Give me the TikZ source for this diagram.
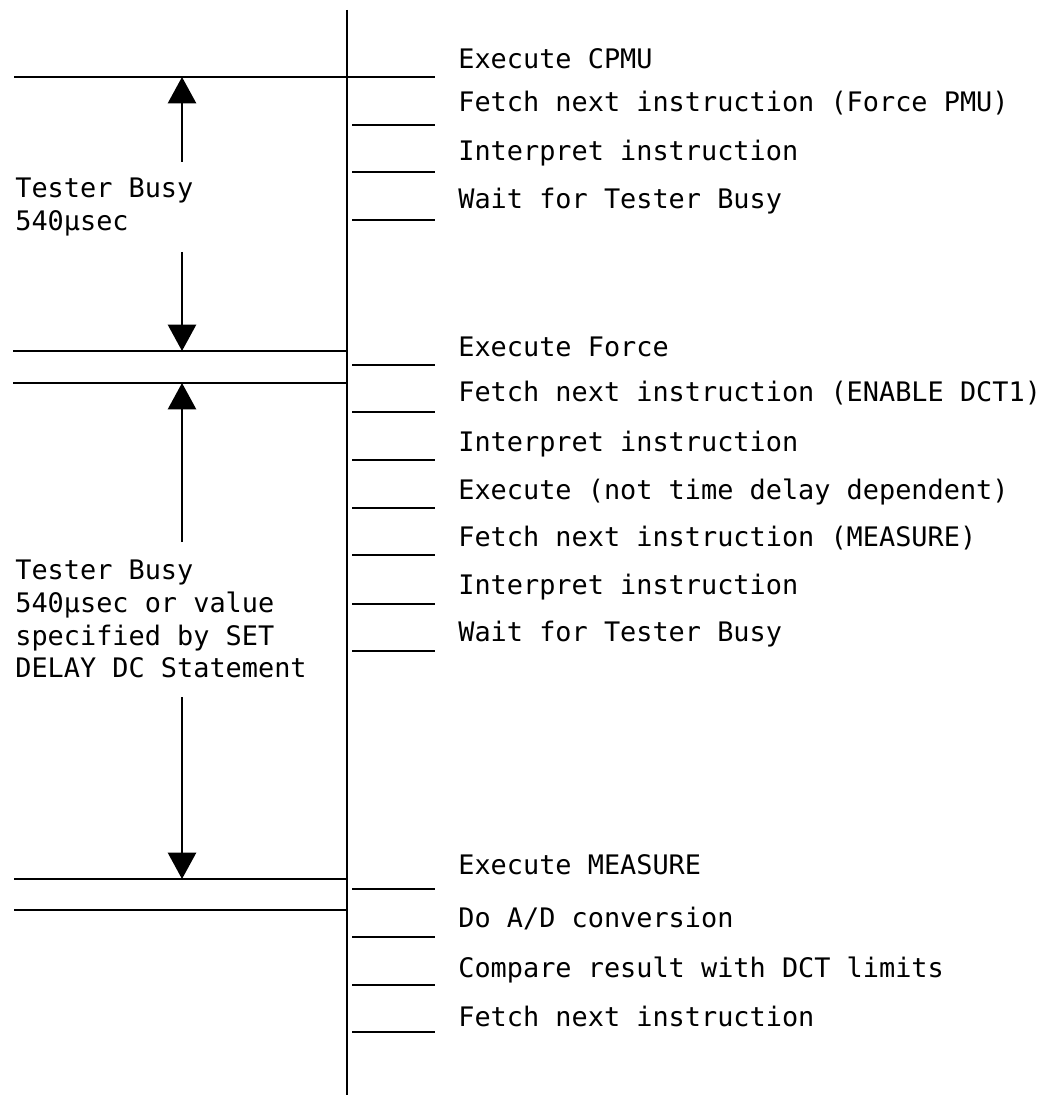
\documentclass[tikz,border=0pt]{standalone}
\usepackage{fontspec}
\setmonofont{DejaVu Sans Mono}
\usetikzlibrary{arrows.meta}

\begin{document}
\begin{tikzpicture}[x=0.02cm,y=-0.02cm,
  rule/.style={line width=1.3pt},
  busyarrow/.style={line width=1.3pt,-{Triangle[width=16pt,length=15pt]}},
  stepnote/.style={anchor=base west,inner sep=0pt,font=\ttfamily\fontsize{15.3}{18.6}\selectfont},
  busynote/.style={anchor=north west,align=left,inner sep=0pt,font=\ttfamily\fontsize{15.3}{18.6}\selectfont}]
\useasboundingbox (0,0) rectangle (1057,1097);
% time line and phase boundaries
\draw[rule] (347,10) -- (347,1095);
\draw[rule] (14,77) -- (435,77);
\draw[rule] (13,351) -- (347,351);
\draw[rule] (13,383) -- (347,383);
\draw[rule] (14,879) -- (347,879);
\draw[rule] (14,910) -- (347,910);
% step ticks
\draw[rule] (352,125) -- (435,125) (352,172) -- (435,172) (352,220) -- (435,220)
  (352,365) -- (435,365) (352,412) -- (435,412) (352,460) -- (435,460)
  (352,508) -- (435,508) (352,555) -- (435,555) (352,604) -- (435,604)
  (352,651) -- (435,651)
  (352,889) -- (435,889) (352,937) -- (435,937) (352,985) -- (435,985)
  (352,1032) -- (435,1032);
% steps
\node[stepnote] (exCPMU)   at (458,69)  {Execute CPMU};
\node[stepnote] (fetchPMU) at (458,112) {Fetch next instruction (Force PMU)};
\node[stepnote] (interpA)  at (458,161) {Interpret instruction};
\node[stepnote] (waitA)    at (458,209) {Wait for Tester Busy};
\node[stepnote] (exForce)  at (458,357) {Execute Force};
\node[stepnote] (fetchDCT) at (458,402) {Fetch next instruction (ENABLE DCT1)};
\node[stepnote] (interpB)  at (458,451) {Interpret instruction};
\node[stepnote] (exEnable) at (458,499) {Execute (not time delay dependent)};
\node[stepnote] (fetchMeas) at (458,546) {Fetch next instruction (MEASURE)};
\node[stepnote] (interpC)  at (458,594) {Interpret instruction};
\node[stepnote] (waitB)    at (458,641) {Wait for Tester Busy};
\node[stepnote] (exMeas)   at (458,874) {Execute MEASURE};
\node[stepnote] (convAD)   at (458,927) {Do A/D conversion};
\node[stepnote] (compare)  at (458,977) {Compare result with DCT limits};
\node[stepnote] (fetchNext) at (458,1026) {Fetch next instruction};
% tester busy intervals
\node[busynote] (busyA) at (15,178) {Tester Busy\\540µsec};
\coordinate (busyAtop) at (182,77);
\coordinate (busyAup)  at (182,162);
\coordinate (busyAdn)  at (182,252);
\coordinate (busyAbot) at (182,351);
\draw[busyarrow] (busyAup) -- (busyAtop);
\draw[busyarrow] (busyAdn) -- (busyAbot);
\node[busynote] (busyB) at (15,560) {Tester Busy\\540µsec or value\\specified by SET\\DELAY DC Statement};
\coordinate (busyBtop) at (182,383);
\coordinate (busyBup)  at (182,542);
\coordinate (busyBdn)  at (182,697);
\coordinate (busyBbot) at (182,879);
\draw[busyarrow] (busyBup) -- (busyBtop);
\draw[busyarrow] (busyBdn) -- (busyBbot);
\end{tikzpicture}
\end{document}
